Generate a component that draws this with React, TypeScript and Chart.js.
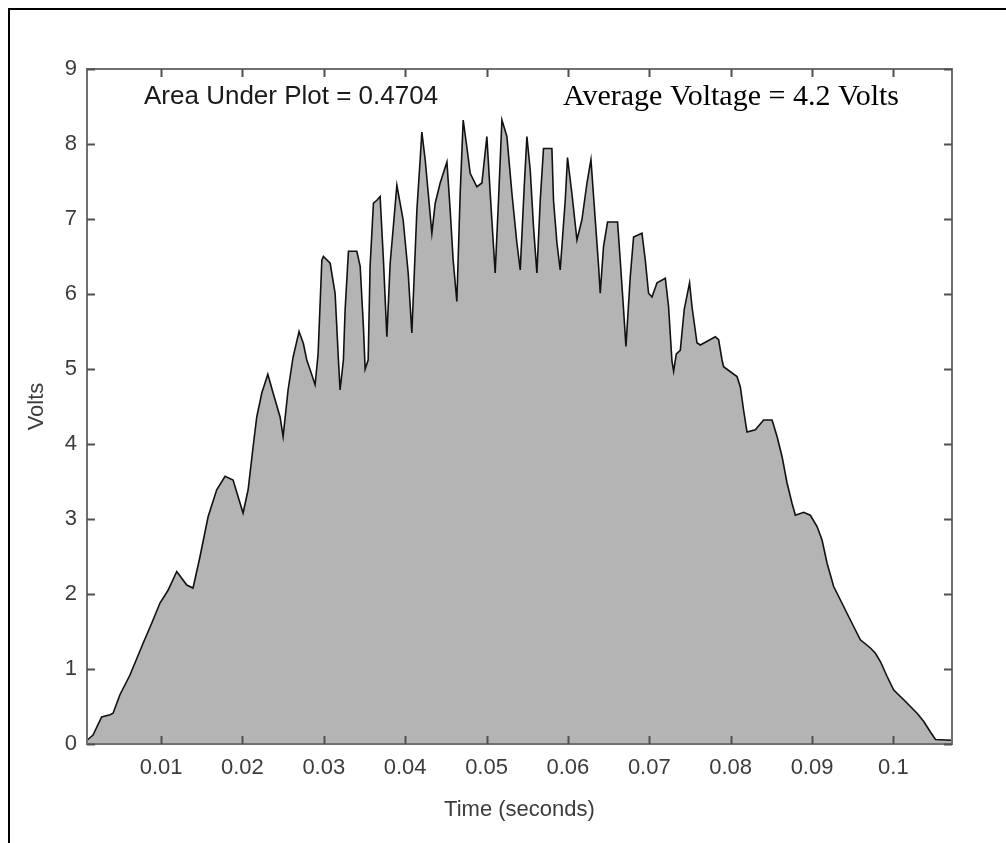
import React, { useEffect, useRef } from 'react';
import { Chart, registerables } from 'chart.js';

Chart.register(...registerables);

// Time (seconds) of each sample
const timeSeconds = [
  0.0009, 0.00164, 0.0027, 0.00373, 0.0041, 0.00496, 0.00618, 0.00778, 0.00885, 0.00987,
  0.01086, 0.01193, 0.01316, 0.01393, 0.01479, 0.01578, 0.01684, 0.01787, 0.01885, 0.01946,
  0.02008, 0.0207, 0.02131, 0.02176, 0.02238, 0.02312, 0.02377, 0.02463, 0.025, 0.02561,
  0.02623, 0.02696, 0.02749, 0.02791, 0.02832, 0.02893, 0.0293, 0.02976, 0.02995, 0.03078,
  0.03139, 0.0318, 0.032, 0.03241, 0.03262, 0.03303, 0.03406, 0.03447, 0.03487, 0.03508,
  0.03545, 0.03569, 0.0361, 0.03652, 0.03692, 0.03733, 0.03775, 0.03815, 0.03898, 0.03975,
  0.04037, 0.04082, 0.04144, 0.04184, 0.04205, 0.04246, 0.04283, 0.04328, 0.04369, 0.0443,
  0.04513, 0.04553, 0.0459, 0.04635, 0.04676, 0.04713, 0.04758, 0.04799, 0.04881, 0.04943,
  0.05004, 0.05045, 0.05106, 0.05147, 0.05189, 0.0525, 0.05312, 0.05373, 0.05414, 0.05463,
  0.05496, 0.05537, 0.05577, 0.05619, 0.0566, 0.057, 0.05803, 0.05823, 0.05865, 0.05905,
  0.05967, 0.05995, 0.06049, 0.06111, 0.06172, 0.06234, 0.06283, 0.06336, 0.06377, 0.06397,
  0.06438, 0.06487, 0.0661, 0.06643, 0.06684, 0.06713, 0.06766, 0.06807, 0.0691, 0.06951,
  0.06991, 0.07033, 0.07095, 0.07197, 0.07237, 0.07279, 0.07299, 0.07332, 0.07381, 0.0743,
  0.07495, 0.07525, 0.07586, 0.07627, 0.07811, 0.07852, 0.07894, 0.07913, 0.08078, 0.08119,
  0.08159, 0.08201, 0.08303, 0.08405, 0.08509, 0.0857, 0.08632, 0.08693, 0.08754, 0.08795,
  0.08897, 0.08979, 0.09062, 0.09123, 0.09185, 0.09266, 0.09349, 0.09431, 0.09533, 0.09594,
  0.09717, 0.09779, 0.0984, 0.09923, 0.10004, 0.10127, 0.10291, 0.10373, 0.10455, 0.10517,
  0.10726,
];

// Volts at each sample
const volts = [
  0.05, 0.12, 0.36, 0.39, 0.41, 0.66, 0.92, 1.34, 1.61, 1.88,
  2.05, 2.30, 2.12, 2.08, 2.50, 3.03, 3.39, 3.57, 3.52, 3.30,
  3.08, 3.39, 3.96, 4.36, 4.68, 4.93, 4.68, 4.36, 4.10, 4.72,
  5.16, 5.50, 5.34, 5.12, 4.99, 4.79, 5.20, 6.45, 6.50, 6.41,
  6.01, 5.12, 4.72, 5.12, 5.79, 6.57, 6.57, 6.37, 5.56, 5.00,
  5.12, 6.37, 7.21, 7.25, 7.30, 6.45, 5.43, 6.40, 7.45, 6.99,
  6.28, 5.48, 7.12, 7.79, 8.16, 7.79, 7.35, 6.81, 7.21, 7.48,
  7.76, 7.12, 6.45, 5.90, 7.34, 8.32, 7.96, 7.61, 7.43, 7.48,
  8.10, 7.34, 6.28, 7.25, 8.32, 8.10, 7.34, 6.68, 6.32, 7.43,
  8.10, 7.65, 6.90, 6.28, 7.25, 7.94, 7.94, 7.25, 6.68, 6.32,
  7.25, 7.82, 7.34, 6.72, 6.99, 7.48, 7.79, 6.99, 6.37, 6.01,
  6.64, 6.96, 6.96, 6.45, 5.79, 5.30, 6.23, 6.76, 6.81, 6.45,
  6.01, 5.96, 6.15, 6.21, 5.83, 5.10, 4.97, 5.20, 5.25, 5.80,
  6.15, 5.83, 5.35, 5.32, 5.43, 5.39, 5.12, 5.03, 4.90, 4.76,
  4.45, 4.16, 4.19, 4.32, 4.32, 4.10, 3.83, 3.48, 3.21, 3.05,
  3.09, 3.05, 2.90, 2.72, 2.41, 2.10, 1.92, 1.74, 1.52, 1.39,
  1.28, 1.21, 1.10, 0.90, 0.72, 0.59, 0.41, 0.30, 0.16, 0.06,
  0.05,
];

const xTickValues = [0.01, 0.02, 0.03, 0.04, 0.05, 0.06, 0.07, 0.08, 0.09, 0.1];
const xTickLabels = ['0.01', '0.02', '0.03', '0.04', '0.05', '0.06', '0.07', '0.08', '0.09', '0.1'];
const yTickValues = [0, 1, 2, 3, 4, 5, 6, 7, 8, 9];
const yTickLabels = ['0', '1', '2', '3', '4', '5', '6', '7', '8', '9'];

const xAxisTitle = 'Time (seconds)';
const yAxisTitle = 'Volts';
const areaText = 'Area Under Plot = 0.4704';
const averageText = 'Average Voltage = 4.2 Volts';

const X_MIN = 0.0009;
const X_MAX = 0.1072;
const Y_MIN = 0;
const Y_MAX = 9;

const SANS = '"Liberation Sans", Arial, Helvetica, sans-serif';
const SERIF = '"Liberation Serif", "Times New Roman", serif';
const LABEL_COLOR = '#3c3c3c';

const boxPlugin = {
  id: 'matlabBox',
  afterDatasetsDraw(chart: any) {
    const { ctx, chartArea, scales } = chart;
    const { left, right, top, bottom } = chartArea;
    ctx.save();
    ctx.strokeStyle = '#707070';
    ctx.lineWidth = 2;
    ctx.strokeRect(left, top, right - left, bottom - top);
    const tl = 8;
    ctx.beginPath();
    xTickValues.forEach((v) => {
      const px = Math.round(scales.x.getPixelForValue(v)) + 0.5;
      ctx.moveTo(px, bottom);
      ctx.lineTo(px, bottom - tl);
      ctx.moveTo(px, top);
      ctx.lineTo(px, top + tl);
    });
    yTickValues.forEach((v) => {
      const py = Math.round(scales.y.getPixelForValue(v)) + 0.5;
      ctx.moveTo(left, py);
      ctx.lineTo(left + tl, py);
      ctx.moveTo(right, py);
      ctx.lineTo(right - tl, py);
    });
    ctx.strokeStyle = '#505050';
    ctx.lineWidth = 2;
    ctx.stroke();

    ctx.fillStyle = '#1a1a1a';
    ctx.textBaseline = 'alphabetic';
    ctx.textAlign = 'left';
    ctx.font = `26px ${SANS}`;
    ctx.fillText(areaText, left + 57, top + 35);
    ctx.fillStyle = '#000';
    ctx.font = `30px ${SERIF}`;
    ctx.fillText(averageText, left + 476, top + 36);
    ctx.restore();
  },
};

const framePlugin = {
  id: 'outerFrame',
  beforeDraw(chart: any) {
    const { ctx, width, height } = chart;
    ctx.save();
    ctx.fillStyle = '#ffffff';
    ctx.fillRect(0, 0, width, height);
    ctx.fillStyle = '#000';
    ctx.fillRect(8, 8, width - 8, 2);
    ctx.fillRect(8, 8, 2, height - 8);
    ctx.restore();
  },
};

export default function App() {
  const canvasRef = useRef<HTMLCanvasElement | null>(null);

  useEffect(() => {
    if (!canvasRef.current) return;
    const points = timeSeconds.map((t, i) => ({ x: t, y: volts[i] }));
    const chart = new Chart(canvasRef.current, {
      type: 'line',
      data: {
        datasets: [
          {
            data: points,
            borderColor: '#111111',
            borderWidth: 1.6,
            backgroundColor: '#b4b4b4',
            fill: 'origin',
            pointRadius: 0,
            tension: 0,
          },
        ],
      },
      options: {
        animation: false,
        responsive: false,
        devicePixelRatio: 1,
        layout: { padding: { left: 0, right: 54, top: 69, bottom: 0 } },
        plugins: {
          legend: { display: false },
          tooltip: { enabled: false },
        },
        scales: {
          x: {
            type: 'linear',
            min: X_MIN,
            max: X_MAX,
            afterBuildTicks: (scale: any) => {
              scale.ticks = xTickValues.map((v) => ({ value: v }));
            },
            afterFit: (scale: any) => {
              scale.height = 99;
            },
            grid: { display: false, drawTicks: false },
            border: { display: false },
            ticks: {
              autoSkip: false,
              maxRotation: 0,
              padding: 11,
              color: LABEL_COLOR,
              font: { family: SANS, size: 22 },
              callback: (value: any) => {
                const idx = xTickValues.findIndex((v) => Math.abs(v - Number(value)) < 1e-9);
                return idx >= 0 ? xTickLabels[idx] : '';
              },
            },
            title: {
              display: true,
              text: xAxisTitle,
              color: LABEL_COLOR,
              font: { family: SANS, size: 22 },
              padding: { top: 4, bottom: 20 },
            },
          },
          y: {
            type: 'linear',
            min: Y_MIN,
            max: Y_MAX,
            afterBuildTicks: (scale: any) => {
              scale.ticks = yTickValues.map((v) => ({ value: v }));
            },
            afterFit: (scale: any) => {
              scale.width = 87;
            },
            grid: { display: false, drawTicks: false },
            border: { display: false },
            ticks: {
              autoSkip: false,
              padding: 10,
              color: LABEL_COLOR,
              font: { family: SANS, size: 22 },
              callback: (value: any) => {
                const idx = yTickValues.findIndex((v) => v === Number(value));
                return idx >= 0 ? yTickLabels[idx] : '';
              },
            },
            title: {
              display: true,
              text: yAxisTitle,
              color: LABEL_COLOR,
              font: { family: SANS, size: 22 },
              padding: { top: 24, bottom: 0 },
            },
          },
        },
      },
      plugins: [framePlugin, boxPlugin],
    });
    return () => chart.destroy();
  }, []);

  return (
    <div style={{ position: 'absolute', left: 0, top: 0, width: 1006, height: 843 }}>
      <canvas ref={canvasRef} width={1006} height={843} style={{ display: 'block' }} />
    </div>
  );
}
